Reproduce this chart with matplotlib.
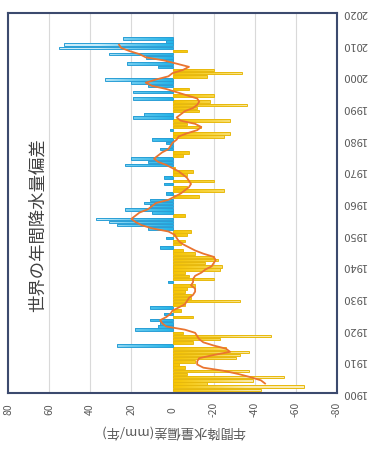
import numpy as np
import matplotlib
matplotlib.use("Agg")
import matplotlib.pyplot as plt
from matplotlib.path import Path
from matplotlib.colors import LinearSegmentedColormap

plt.rcParams['font.family'] = ['Noto Sans CJK JP', 'DejaVu Sans']

# Annual precipitation anomaly over global land (mm/year), 1901-2012
years = np.arange(1901, 2013)
anomaly = [
    -43, -64, -17, -39, -54, -7, -37, -6, -3, -11,      # 1901-1910
    -31, -33, -37, -26, 27, -10, -23, -48, -5, 18,      # 1911-1920
    7, 6, 11, -10, 4, -4, 11, -6, -33, -9,              # 1921-1930
    -9, -6, -7, -11, 2, -20, -8, -6, -23, -24,          # 1931-1940
    -16, -22, -20, -11, -5, 6, -4, -6, 3, -7,           # 1941-1950
    -9, 12, 27, 31, 37, -6, 10, 23, 11, 14,             # 1951-1960
    11, -13, 3, -25, -7, 4, -20, 4, -7, -10,            # 1961-1970
    -1, 23, 12, 20, -5, -8, 6, 1, 3, 10,                # 1971-1980
    -25, -28, 1, -14, -7, -28, 19, 14, -13, -12,        # 1981-1990
    -36, -18, 19, -20, 19, -8, 12, 20, 33, -17,         # 1991-2000
    -34, -20, 7, 22, 3, 13, 31, -7, 55, 53,             # 2001-2010
    3, 24,                                              # 2011-2012
]

# 5-year running mean curve, 1903-2010
smooth_years = np.arange(1903, 2011)
smooth = [
    -45, -43, -38, -32, -25, -15, -12, -12,             # 1903-1910
    -13, -20, -28, -26, -20, -15, -13, -12, -11, -6,    # 1911-1920
    3, 5, 6, 3, 1, 0, -3, -6, -7, -8,                   # 1921-1930
    -10, -11, -11, -9, -10, -10, -11, -14, -16, -19,    # 1931-1940
    -20, -21, -20, -15, -11, -8, -5, -3, -2, -1,        # 1941-1950
    2, 10, 15, 18, 20, 18, 16, 12, 10, 8,               # 1951-1960
    2, -1, -4, -6, -8, -9, -8, -7, -5, -3,              # 1961-1970
    0, 3, 7, 9, 7, 5, 2, 1, 0, -2,                      # 1971-1980
    -3, -7, -12, -14, -11, -4, -2, -4, -6, -10,         # 1981-1990
    -12, -13, -12, -7, -2, 3, 10, 13, 8, 2,             # 1991-2000
    0, -5, -8, -2, 4, 13, 16, 21, 25, 26,               # 2001-2010
]

year_ticks = list(range(1900, 2021, 10))
value_ticks = [80, 60, 40, 20, 0, -20, -40, -60, -80]

W, H = 374, 450
fig = plt.figure(figsize=(W / 100, H / 100), dpi=100)
ax = fig.add_axes([8 / W, 1 - 393 / H, (337 - 8) / W, (393 - 13) / H])

anomaly = np.array(anomaly)
pos = anomaly >= 0
edge_cols = np.where(pos, '#2a9fd6', '#e8b90c')
bars = ax.barh(years, anomaly, height=0.82, facecolor='none',
               edgecolor=edge_cols, linewidth=0.7, zorder=3)

# gradient fills, clipped to the bars of each sign
def bar_paths(mask):
    paths = []
    for b, m in zip(bars, mask):
        if m:
            paths.append(b.get_patch_transform().transform_path(b.get_path()))
    return Path.make_compound_path(*paths)

blue_cmap = LinearSegmentedColormap.from_list(
    'wet', [(0.0, '#22b4e8'), (0.25, '#6ccbef'), (0.45, '#c6ebf8'), (1.0, '#dcf3fb')])
yellow_cmap = LinearSegmentedColormap.from_list(
    'dry', [(0.0, '#f6c400'), (0.25, '#f7d64a'), (0.45, '#f9e8a6'), (1.0, '#fcf1c6')])

grad = np.linspace(0, 1, 256).reshape(1, -1)
im_b = ax.imshow(grad, extent=(0, 80, 1900, 2020), aspect='auto',
                 cmap=blue_cmap, interpolation='bilinear', zorder=2)
im_b.set_clip_path(bar_paths(pos), ax.transData)
im_y = ax.imshow(grad, extent=(0, -80, 1900, 2020), aspect='auto',
                 cmap=yellow_cmap, interpolation='bilinear', zorder=2)
im_y.set_clip_path(bar_paths(~pos), ax.transData)

# running mean drawn over the bars (values on x, years on y)
ax.plot(smooth, smooth_years, color='#ea7430', lw=1.3, zorder=4)

ax.set_xlim(80, -80)
ax.set_ylim(1900, 2020)

ax.set_xticks(value_ticks)
ax.set_xticklabels([str(v) for v in value_ticks], rotation=90, va='center', ha='center')
ax.tick_params(axis='x', length=0, pad=12, labelsize=7.5, labelcolor='#595959')
ax.grid(axis='x', color='#d9d9d9', lw=0.8, zorder=0)
ax.set_axisbelow(True)

ax.yaxis.tick_right()
ax.set_yticks(year_ticks)
ax.set_yticklabels([str(y) for y in year_ticks], rotation=180, ha='left', va='center')
ax.tick_params(axis='y', length=0, pad=4, labelsize=8, labelcolor='#595959')

for s in ax.spines.values():
    s.set_color('#3c4a6e')
    s.set_linewidth(1.5)

fig.text(173 / W, 1 - 431 / H, '年間降水量偏差(mm/年)', rotation=180,
         ha='center', va='center', fontsize=9.5, color='#595959')
fig.text(38 / W, 1 - 225 / H, '世界の年間降水量偏差', rotation=90,
         ha='center', va='center', fontsize=12.5, color='#404040')

fig.savefig('out.png', dpi=100)
